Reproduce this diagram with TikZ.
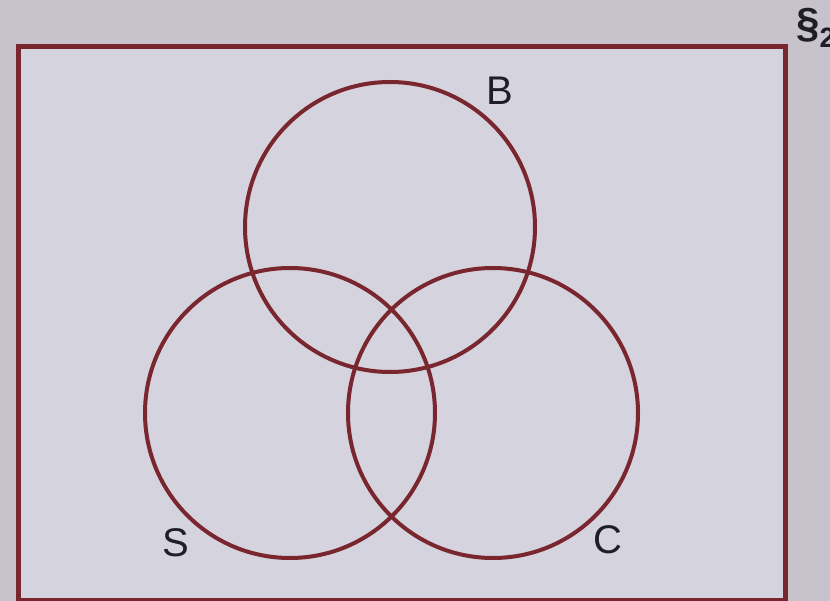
\documentclass[tikz,border=0pt]{standalone}
\usepackage{fontspec}
\setmainfont{Liberation Sans}
\definecolor{paper}{RGB}{200,194,204}
\definecolor{inner}{RGB}{212,211,222}
\definecolor{ink}{RGB}{122,38,46}
\definecolor{txt}{RGB}{30,30,38}
\begin{document}
\begin{tikzpicture}[x=1pt,y=-1pt,
  setline/.style={draw=ink,line width=4pt},
  lbl/.style={text=txt,font=\fontsize{40}{44}\selectfont,inner sep=0pt}]
\useasboundingbox (0,0) rectangle (830,601);
\fill[paper] (0,0) rectangle (830,601);
\node[draw=ink,fill=inner,line width=5pt,minimum width=767pt,minimum height=554pt,inner sep=0pt,anchor=north west] (U) at (16,44) {};
\node[setline,circle,minimum size=290pt,inner sep=0pt] (B) at (390,227) {};
\node[setline,circle,minimum size=290pt,inner sep=0pt] (S) at (290,413) {};
\node[setline,circle,minimum size=290pt,inner sep=0pt] (C) at (493,413) {};
\node[lbl] (lB) at (500,91) {B};
\node[lbl] (lS) at (176,543) {S};
\node[lbl] (lC) at (608,540) {C};
\node[text=txt,font=\fontsize{42}{44}\selectfont\bfseries,inner sep=0pt,anchor=west] (sec) at (796,28) {§\raisebox{-10pt}{\fontsize{28}{30}\selectfont 2}};
\end{tikzpicture}
\end{document}
